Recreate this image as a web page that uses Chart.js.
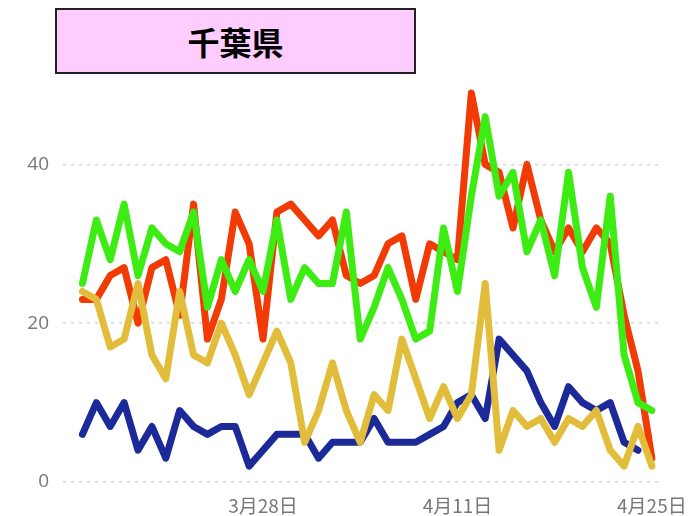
<!DOCTYPE html>
<html>
<head>
<meta charset="utf-8">
<script src="https://cdn.jsdelivr.net/npm/chart.js@4"></script>
<style>
  body { margin: 0; background: #fff; }
  #wrap { position: relative; width: 696px; height: 516px; }
  #title {
    position: absolute; left: 55px; top: 8px; width: 357px; height: 62px;
    background: #ffccff; border: 2px solid #222;
    font-family: "Noto Sans CJK JP", sans-serif; font-weight: bold; font-size: 32px;
    line-height: 62px; text-align: center; color: #000;
  }
</style>
</head>
<body>
<div id="wrap">
  <canvas id="chart" width="696" height="516"></canvas>
  <div id="title">千葉県</div>
</div>
<script>
// 3/15 .. 4/25
const dates = [];
for (let d = 15; d <= 31; d++) dates.push('3月' + d + '日');
for (let d = 1; d <= 25; d++) dates.push('4月' + d + '日');

const tickDays = [13, 27, 41]; // 3月28日, 4月11日, 4月25日
const yTicks = [0, 20, 40];

const red = [23, 23, 26, 27, 20, 27, 28, 21, 35, 18, 23, 34, 30, 18, 34, 35, 33, 31, 33, 26, 25,
  26, 30, 31, 23, 30, 29, 28, 49, 40, 39, 32, 40, 33, 29, 32, 29, 32, 30, 21, 14, 3];
const green = [25, 33, 28, 35, 26, 32, 30, 29, 34, 22, 28, 24, 28, 24, 33, 23, 27, 25, 25, 34, 18,
  22, 27, 23, 18, 19, 32, 24, 36, 46, 36, 39, 29, 33, 26, 39, 27, 22, 36, 16, 10, 9];
const yellow = [24, 23, 17, 18, 25, 16, 13, 24, 16, 15, 20, 16, 11, 15, 19, 15, 5, 9, 15, 9, 5,
  11, 9, 18, 13, 8, 12, 8, 11, 25, 4, 9, 7, 8, 5, 8, 7, 9, 4, 2, 7, 2];
const navy = [6, 10, 7, 10, 4, 7, 3, 9, 7, 6, 7, 7, 2, 4, 6, 6, 6, 3, 5, 5, 5,
  8, 5, 5, 5, 6, 7, 10, 11, 8, 18, 16, 14, 10, 7, 12, 10, 9, 10, 5, 4, null];

function pts(arr) {
  return arr.map((v, i) => ({ x: i, y: v }));
}

function line(arr, color, order) {
  return {
    data: pts(arr),
    borderColor: color,
    borderWidth: 7,
    pointRadius: 0,
    tension: 0,
    borderJoinStyle: 'round',
    borderCapStyle: 'round',
    fill: false,
    order: order
  };
}

new Chart(document.getElementById('chart'), {
  type: 'line',
  data: {
    datasets: [
      line(yellow, '#e2bd3c', 0),
      line(green, '#3cec12', 1),
      line(red, '#f23a05', 2),
      line(navy, '#1b2a98', 3)
    ]
  },
  options: {
    responsive: false,
    animation: false,
    layout: { padding: { top: 85, right: 33, left: 0, bottom: 0 } },
    plugins: { legend: { display: false }, tooltip: { enabled: false } },
    scales: {
      x: {
        type: 'linear',
        min: -1.4,
        max: 41.8,
        grid: { display: false },
        border: { display: false },
        afterBuildTicks: (scale) => { scale.ticks = tickDays.map(v => ({ value: v })); },
        afterFit: (scale) => { scale.height = 34; },
        ticks: {
          autoSkip: false,
          maxRotation: 0,
          padding: 4,
          color: '#777',
          font: { family: '"Noto Sans CJK JP", sans-serif', size: 19 },
          callback: (v) => dates[v]
        }
      },
      y: {
        min: 0,
        max: 50,
        grid: { color: '#d6d6d6', lineWidth: 1.5, drawTicks: false },
        border: { display: false, dash: [3, 5] },
        afterBuildTicks: (scale) => { scale.ticks = yTicks.map(v => ({ value: v })); },
        afterFit: (scale) => { scale.width = 63; },
        ticks: {
          padding: 14,
          color: '#777',
          font: { family: '"Open Sans", sans-serif', size: 19 }
        }
      }
    }
  }
});
</script>
</body>
</html>
